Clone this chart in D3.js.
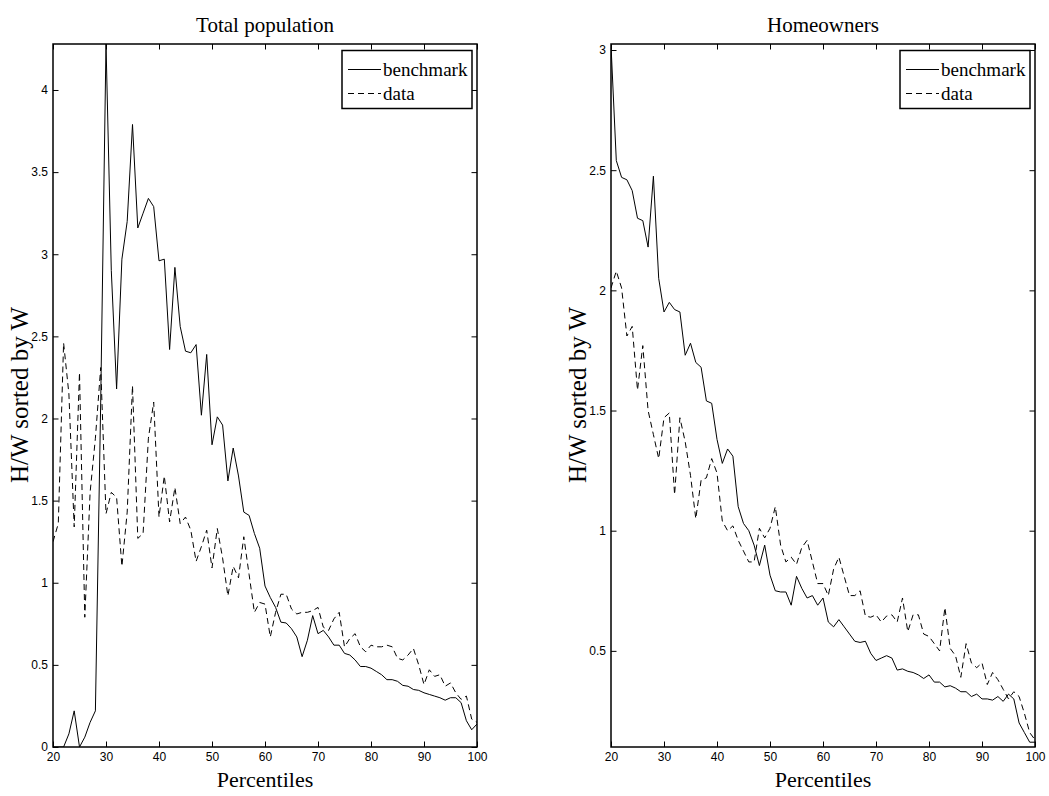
<!DOCTYPE html>
<html>
<head>
<meta charset="utf-8">
<script src="https://cdn.jsdelivr.net/npm/d3@7"></script>
<style>
  body { margin: 0; background: #fff; }
  svg { display: block; }
</style>
</head>
<body>
<div id="chart"></div>
<script>
// percentiles on the x axis
const percentiles = [20, 21, 22, 23, 24, 25, 26, 27, 28, 29, 30, 31, 32, 33, 34, 35, 36, 37, 38, 39,
  40, 41, 42, 43, 44, 45, 46, 47, 48, 49, 50, 51, 52, 53, 54, 55, 56, 57, 58, 59,
  60, 61, 62, 63, 64, 65, 66, 67, 68, 69, 70, 71, 72, 73, 74, 75, 76, 77, 78, 79,
  80, 81, 82, 83, 84, 85, 86, 87, 88, 89, 90, 91, 92, 93, 94, 95, 96, 97, 98, 99, 100];

// Total population
const totalBenchmark = [0, 0, 0, 0.08, 0.22, 0, 0.06, 0.15, 0.22, 2.1,
  4.28, 2.9, 2.18, 2.97, 3.2, 3.79, 3.16, 3.25, 3.34, 3.29,
  2.96, 2.97, 2.42, 2.92, 2.56, 2.41, 2.40, 2.45, 2.02, 2.39,
  1.84, 2.01, 1.96, 1.62, 1.82, 1.65, 1.43, 1.41, 1.30, 1.21,
  0.98, 0.91, 0.85, 0.76, 0.755, 0.72, 0.67, 0.55, 0.65, 0.80,
  0.69, 0.71, 0.67, 0.62, 0.62, 0.57, 0.56, 0.53, 0.49, 0.49,
  0.48, 0.46, 0.44, 0.41, 0.41, 0.40, 0.375, 0.37, 0.35, 0.345,
  0.33, 0.32, 0.31, 0.30, 0.285, 0.30, 0.30, 0.27, 0.16, 0.105, 0.14];
const totalData = [1.25, 1.36, 2.46, 2.15, 1.34, 2.28, 0.79, 1.55, 1.88, 2.31,
  1.42, 1.55, 1.52, 1.10, 1.43, 2.20, 1.27, 1.30, 1.88, 2.10,
  1.40, 1.65, 1.37, 1.58, 1.36, 1.40, 1.32, 1.13, 1.22, 1.32,
  1.09, 1.33, 1.15, 0.92, 1.10, 1.03, 1.28, 1.05, 0.82, 0.88,
  0.87, 0.67, 0.82, 0.93, 0.93, 0.84, 0.81, 0.82, 0.82, 0.83,
  0.85, 0.73, 0.71, 0.78, 0.82, 0.61, 0.66, 0.69, 0.61, 0.58,
  0.62, 0.61, 0.61, 0.62, 0.61, 0.54, 0.53, 0.56, 0.60, 0.50,
  0.38, 0.47, 0.43, 0.44, 0.37, 0.39, 0.33, 0.29, 0.31, 0.17, 0.15];

// Homeowners
const homeBenchmark = [3.02, 2.54, 2.47, 2.46, 2.415, 2.30, 2.29, 2.18, 2.475, 2.05,
  1.91, 1.95, 1.92, 1.91, 1.73, 1.78, 1.70, 1.68, 1.54, 1.53,
  1.38, 1.28, 1.34, 1.31, 1.10, 1.03, 1.00, 0.94, 0.855, 0.94,
  0.815, 0.75, 0.745, 0.745, 0.69, 0.81, 0.76, 0.72, 0.73, 0.69,
  0.72, 0.62, 0.60, 0.63, 0.60, 0.57, 0.54, 0.535, 0.54, 0.49,
  0.46, 0.47, 0.48, 0.47, 0.42, 0.425, 0.415, 0.41, 0.40, 0.385,
  0.40, 0.37, 0.37, 0.35, 0.355, 0.345, 0.33, 0.33, 0.31, 0.32,
  0.30, 0.30, 0.295, 0.31, 0.29, 0.32, 0.30, 0.20, 0.16, 0.12, 0.12];
const homeData = [2.01, 2.08, 2.01, 1.81, 1.85, 1.585, 1.77, 1.50, 1.40, 1.30,
  1.47, 1.49, 1.15, 1.47, 1.37, 1.23, 1.05, 1.21, 1.22, 1.30,
  1.24, 1.04, 1.00, 1.02, 0.96, 0.915, 0.87, 0.87, 1.01, 0.97,
  1.01, 1.10, 0.94, 0.87, 0.89, 0.86, 0.93, 0.96, 0.87, 0.78,
  0.78, 0.73, 0.84, 0.89, 0.81, 0.73, 0.73, 0.75, 0.645, 0.64,
  0.65, 0.62, 0.645, 0.65, 0.62, 0.72, 0.58, 0.65, 0.65, 0.57,
  0.56, 0.53, 0.50, 0.68, 0.51, 0.48, 0.39, 0.53, 0.45, 0.43,
  0.45, 0.36, 0.41, 0.38, 0.34, 0.30, 0.33, 0.31, 0.24, 0.16, 0.13];

const xTicks = [20, 30, 40, 50, 60, 70, 80, 90, 100];
const totalYTicks = [0, 0.5, 1, 1.5, 2, 2.5, 3, 3.5, 4];
const homeYTicks = [0.5, 1, 1.5, 2, 2.5, 3];
const seriesNames = ["benchmark", "data"];

const W = 1049, H = 796;
const serif = "'Liberation Serif', 'Times New Roman', Times, serif";
const sans = "'Liberation Sans', Arial, Helvetica, sans-serif";

const svg = d3.select("#chart").append("svg")
  .attr("width", W)
  .attr("height", H);

function drawPanel(opts) {
  const x = d3.scaleLinear().domain([20, 100]).range([opts.left, opts.right]);
  const y = d3.scaleLinear().domain(opts.yDomain).range([747, 44]);
  const g = svg.append("g");

  const clipId = "clip-" + opts.id;
  g.append("clipPath").attr("id", clipId)
    .append("rect")
    .attr("x", opts.left).attr("y", 44)
    .attr("width", opts.right - opts.left).attr("height", 747 - 44);

  // axes with inward ticks on all four sides
  const tk = 5.5;
  const bottom = g.append("g")
    .attr("transform", "translate(0,747)")
    .call(d3.axisBottom(x).tickValues(xTicks).tickSize(-tk).tickPadding(5).tickFormat(d3.format("~g")));
  g.append("g")
    .attr("transform", "translate(0,44)")
    .call(d3.axisTop(x).tickValues(xTicks).tickSize(-tk).tickFormat(""));
  const left = g.append("g")
    .attr("transform", `translate(${opts.left},0)`)
    .call(d3.axisLeft(y).tickValues(opts.yTicks).tickSize(-tk).tickPadding(5).tickFormat(d3.format("~g")));
  g.append("g")
    .attr("transform", `translate(${opts.right},0)`)
    .call(d3.axisRight(y).tickValues(opts.yTicks).tickSize(-tk).tickFormat(""));

  g.selectAll(".domain").remove();
  g.selectAll(".tick line").attr("stroke", "#000").attr("stroke-width", 1);
  g.selectAll(".tick text")
    .attr("fill", "#000")
    .style("font-family", sans)
    .style("font-size", "12px");

  // lines
  const line = d3.line()
    .x((d, i) => x(percentiles[i]))
    .y(d => y(d));

  const lines = g.append("g").attr("clip-path", `url(#${clipId})`);
  lines.append("path")
    .datum(opts.bench)
    .attr("fill", "none")
    .attr("stroke", "#000")
    .attr("stroke-width", 1)
    .attr("d", line);
  lines.append("path")
    .datum(opts.data)
    .attr("fill", "none")
    .attr("stroke", "#000")
    .attr("stroke-width", 1)
    .attr("stroke-dasharray", "6,4")
    .attr("d", line);

  // frame
  g.append("rect")
    .attr("x", opts.left).attr("y", 44)
    .attr("width", opts.right - opts.left).attr("height", 747 - 44)
    .attr("fill", "none")
    .attr("stroke", "#000")
    .attr("stroke-width", 1.5);

  // title + labels
  const cx = (opts.left + opts.right) / 2;
  g.append("text")
    .attr("x", cx).attr("y", 32)
    .attr("text-anchor", "middle")
    .style("font-family", serif)
    .style("font-size", "21px")
    .text(opts.title);

  g.append("text")
    .attr("x", cx).attr("y", 787)
    .attr("text-anchor", "middle")
    .style("font-family", serif)
    .style("font-size", "22px")
    .text("Percentiles");

  g.append("text")
    .attr("transform", `translate(${opts.left - 25},395) rotate(-90)`)
    .attr("text-anchor", "middle")
    .style("font-family", serif)
    .style("font-size", "25px")
    .text("H/W sorted by W");

  // legend
  const lx = opts.right - 135, ly = 50.5;
  const leg = g.append("g");
  leg.append("rect")
    .attr("x", lx).attr("y", ly)
    .attr("width", 130).attr("height", 58)
    .attr("fill", "#fff")
    .attr("stroke", "#000")
    .attr("stroke-width", 1.5);
  seriesNames.forEach((name, i) => {
    const ry = ly + 19 + i * 24;
    leg.append("line")
      .attr("x1", lx + 6).attr("x2", lx + 39)
      .attr("y1", ry).attr("y2", ry)
      .attr("stroke", "#000")
      .attr("stroke-width", 1)
      .attr("stroke-dasharray", i === 1 ? "6,4" : null);
    leg.append("text")
      .attr("x", lx + 41).attr("y", ry + 6)
      .style("font-family", serif)
      .style("font-size", "19px")
      .text(name);
  });
}

drawPanel({
  id: "total", left: 53, right: 477,
  yDomain: [0, 4.28], yTicks: totalYTicks,
  bench: totalBenchmark, data: totalData,
  title: "Total population"
});

drawPanel({
  id: "home", left: 611, right: 1035,
  yDomain: [0.1, 3.025], yTicks: homeYTicks,
  bench: homeBenchmark, data: homeData,
  title: "Homeowners"
});
</script>
</body>
</html>
